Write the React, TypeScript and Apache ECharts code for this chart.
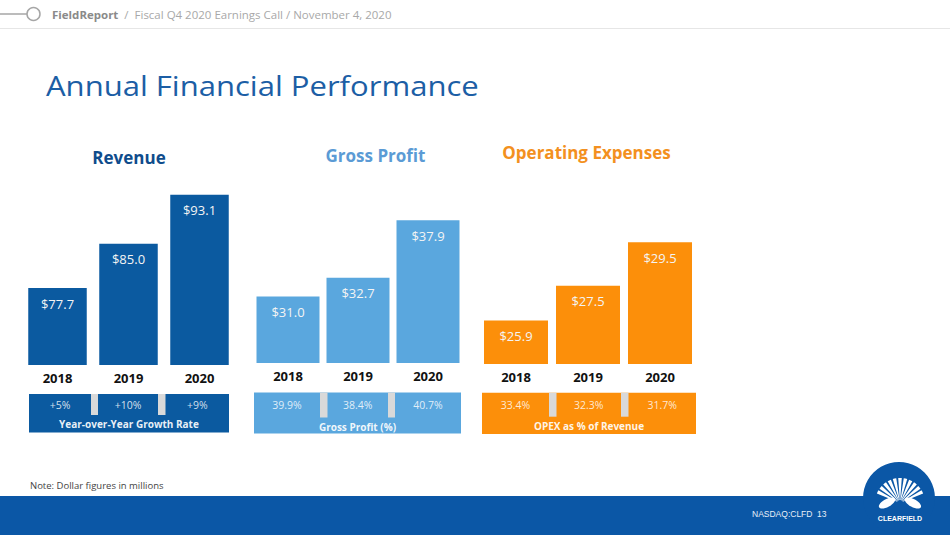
import React, { useEffect, useRef } from "react";
import * as echarts from "echarts";

const categories = ["2018", "2019", "2020"];
const revenue = [77.7, 85.0, 93.1];
const grossProfit = [31.0, 32.7, 37.9];
const opex = [25.9, 27.5, 29.5];
const growthRate = ["+5%", "+10%", "+9%"];
const grossMarginPct = ["39.9%", "38.4%", "40.7%"];
const opexPct = ["33.4%", "32.3%", "31.7%"];
const panelTitles = ["Revenue", "Gross Profit", "Operating Expenses"];
const boxCaptions = ["Year-over-Year Growth Rate", "Gross Profit (%)", "OPEX as % of Revenue"];

const FONT = "'Open Sans', 'Noto Sans', sans-serif";
const colors = ["#0b5aa0", "#5aa7de", "#fc8f0a"];
const titleColors = ["#0f4c8c", "#5b9bd5", "#f39020"];

// layout (not data)
const grids = [
  { left: 22, right: 715, top: 150, bottom: 170, min: 65, max: 100.48, barWidth: 58.5 },
  { left: 253, right: 487, top: 150, bottom: 172, min: 25, max: 44.24, barWidth: 63 },
  { left: 480, right: 254, top: 150, bottom: 171, min: 23.9, max: 33.74, barWidth: 64 },
];
const titlePos = [
  { x: 129, y: 157 },
  { x: 375.5, y: 155 },
  { x: 586.5, y: 152 },
];
const boxes = [
  { x: 29, y: 394, w: 200, h: 38.5, seps: [[91, 7], [158, 7.5]], sepH: 21, pctY: 404.5, capY: 424 },
  { x: 254, y: 392.5, w: 207, h: 41, seps: [[320, 7.5], [388, 7]], sepH: 25, pctY: 405, capY: 426.5 },
  { x: 482, y: 392.7, w: 214, h: 41.3, seps: [[549, 7.5], [621, 7.5]], sepH: 24, pctY: 405, capY: 426 },
];
const pctLists = [growthRate, grossMarginPct, opexPct];
const seriesData = [revenue, grossProfit, opex];

export default function App() {
  const ref = useRef<HTMLDivElement>(null);
  useEffect(() => {
    if (!ref.current) return;
    const chart = echarts.init(ref.current, null, { renderer: "svg" });

    const graphic: any[] = [];
    // header
    graphic.push({ type: "line", shape: { x1: 0, y1: 14, x2: 27, y2: 14 }, style: { stroke: "#a6a6a6", lineWidth: 1.5 } });
    graphic.push({ type: "circle", shape: { cx: 33.5, cy: 14, r: 6.5 }, style: { fill: "#fff", stroke: "#a6a6a6", lineWidth: 1.5 } });
    graphic.push({
      type: "text",
      x: 52,
      y: 15,
      scaleX: 1.15,
      style: {
        x: 0,
        y: 0,
        text: "{b|FieldReport}{n|  /  Fiscal Q4 2020 Earnings Call / November 4, 2020}",
        verticalAlign: "middle",
        align: "left",
        rich: {
          b: { fontFamily: FONT, fontSize: 10, fontWeight: "bold", fill: "#8a8a8a" },
          n: { fontFamily: FONT, fontSize: 10, fill: "#a8a8a8" },
        },
      },
    });
    graphic.push({ type: "line", shape: { x1: 0, y1: 28.5, x2: 950, y2: 28.5 }, style: { stroke: "#e6e6e6", lineWidth: 1 } });
    // main title
    graphic.push({
      type: "text",
      x: 46,
      y: 86,
      scaleX: 1.15,
      style: { x: 0, y: 0, text: "Annual Financial Performance", fontFamily: FONT, fontSize: 27, fill: "#1c5ea5", verticalAlign: "middle", align: "left" },
    });
    // panel titles
    panelTitles.forEach((t, i) => {
      graphic.push({
        type: "text",
        style: { x: titlePos[i].x, y: titlePos[i].y, text: t, fontFamily: FONT, fontSize: 17, fontWeight: "bold", fill: titleColors[i], align: "center", verticalAlign: "middle" },
      });
    });
    // boxes
    boxes.forEach((b, i) => {
      graphic.push({ type: "rect", shape: { x: b.x, y: b.y, width: b.w, height: b.h }, style: { fill: colors[i] } });
      b.seps.forEach((s) => {
        graphic.push({ type: "rect", shape: { x: s[0], y: b.y, width: s[1], height: b.sepH }, style: { fill: "#d9d9d9" } });
      });
      const edges = [b.x, b.seps[0][0], b.seps[0][0] + b.seps[0][1], b.seps[1][0], b.seps[1][0] + b.seps[1][1], b.x + b.w];
      const centers = [(edges[0] + edges[1]) / 2, (edges[2] + edges[3]) / 2, (edges[4] + edges[5]) / 2];
      pctLists[i].forEach((p, j) => {
        graphic.push({
          type: "text",
          style: { x: centers[j], y: b.pctY, text: p, fontFamily: FONT, fontSize: 10.5, fill: "rgba(255,255,255,0.82)", align: "center", verticalAlign: "middle" },
        });
      });
      graphic.push({
        type: "text",
        style: { x: b.x + b.w / 2, y: b.capY, text: boxCaptions[i], fontFamily: FONT, fontSize: 10, fontWeight: "bold", fill: "rgba(255,255,255,0.92)", align: "center", verticalAlign: "middle" },
      });
    });
    // note
    graphic.push({
      type: "text",
      style: { x: 30, y: 485, text: "Note: Dollar figures in millions", fontFamily: FONT, fontSize: 9.5, fill: "#444", align: "left", verticalAlign: "middle" },
    });
    // footer
    const footBlue = "#0b57a6";
    graphic.push({ type: "rect", shape: { x: 0, y: 496, width: 950, height: 39 }, style: { fill: footBlue } });
    graphic.push({ type: "circle", shape: { cx: 899, cy: 498, r: 36 }, style: { fill: footBlue } });
    graphic.push({
      type: "text",
      style: { x: 752, y: 514, text: "NASDAQ:CLFD", fontFamily: "'Liberation Sans', Arial, sans-serif", fontSize: 8.5, fill: "#e8eef7", align: "left", verticalAlign: "middle" },
    });
    graphic.push({
      type: "text",
      style: { x: 817, y: 514, text: "13", fontFamily: "'Liberation Sans', Arial, sans-serif", fontSize: 8.5, fill: "#e8eef7", align: "left", verticalAlign: "middle" },
    });
    // shell logo
    const cx = 900, cy = 503;
    const n = 11;
    const a0 = -Math.PI + 0.35, a1 = -0.35;
    const step = (a1 - a0) / n;
    for (let k = 0; k < n; k++) {
      graphic.push({
        type: "sector",
        shape: { cx, cy, r0: 3, r: 25, startAngle: a0 + k * step + step * 0.18, endAngle: a0 + (k + 1) * step - step * 0.18 },
        style: { fill: "#fff" },
      });
    }
    graphic.push({ type: "ellipse", x: 887, y: 503, rotation: 0.5, shape: { cx: 0, cy: 0, rx: 9, ry: 4 }, style: { fill: "#fff" } });
    graphic.push({ type: "ellipse", x: 913, y: 503, rotation: -0.5, shape: { cx: 0, cy: 0, rx: 9, ry: 4 }, style: { fill: "#fff" } });
    graphic.push({
      type: "text",
      style: { x: 900, y: 518, text: "CLEARFIELD", fontFamily: "'Liberation Sans', Arial, sans-serif", fontSize: 7, fontWeight: "bold", fill: "#fff", align: "center", verticalAlign: "middle" },
    });

    chart.setOption({
      animation: false,
      backgroundColor: "#ffffff",
      grid: grids.map((g) => ({ left: g.left, right: g.right, top: g.top, bottom: g.bottom, containLabel: false })),
      xAxis: grids.map((g, i) => ({
        type: "category",
        gridIndex: i,
        data: categories,
        axisLine: { show: false },
        axisTick: { show: false },
        axisLabel: { fontFamily: FONT, fontSize: 13, fontWeight: "bold", color: "#111", margin: 6 },
      })),
      yAxis: grids.map((g, i) => ({
        type: "value",
        gridIndex: i,
        min: g.min,
        max: g.max,
        show: false,
        splitLine: { show: false },
      })),
      series: grids.map((g, i) => ({
        type: "bar",
        xAxisIndex: i,
        yAxisIndex: i,
        data: seriesData[i],
        barWidth: g.barWidth,
        itemStyle: { color: colors[i] },
        label: {
          show: true,
          position: "insideTop",
          distance: 9,
          fontFamily: FONT,
          fontSize: 13,
          color: "#f4f4f4",
          formatter: (p: any) => "$" + Number(p.value).toFixed(1),
        },
      })),
      graphic,
    });
    return () => chart.dispose();
  }, []);
  return <div ref={ref} style={{ position: "fixed", left: 0, top: 0, width: 950, height: 535 }} />;
}
